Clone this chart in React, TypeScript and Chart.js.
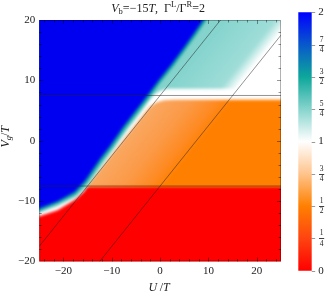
import React, { useEffect, useRef } from 'react';
import { Chart, registerables } from 'chart.js';
Chart.register(...registerables);

const W = 332;
const H = 296;
const FONT = 'Liberation Serif';

// axes
const uRange = [-25, 25];
const vgRange = [-20, 20];
const uTicks = [-20, -10, 0, 10, 20];
const vgTicks = [-20, -10, 0, 10, 20];
const uFrameTicks = [-24, -22, -20, -18, -16, -14, -12, -10, -8, -6, -4, -2, 0, 2, 4, 6, 8, 10, 12, 14, 16, 18, 20, 22, 24];
const vgFrameTicks = [-18, -16, -14, -12, -10, -8, -6, -4, -2, 0, 2, 4, 6, 8, 10, 12, 14, 16, 18];

// colour scale
const cmapValues = [0, 0.25, 0.5, 0.75, 1, 1.25, 1.5, 1.75, 2];
const cmapColors = ['#FF0000', '#FF4410', '#FF8000', '#FFC48C', '#FFFFFF', '#86D4CD', '#0DA79B', '#0858CC', '#0000FF'];
const colorbarTicks = [0, 0.25, 0.5, 0.75, 1, 1.25, 1.5, 1.75, 2];
const colorbarLabels = ['0', '1/4', '1/2', '3/4', '1', '5/4', '3/2', '7/4', '2'];

// guide lines (U, Vg)
const line1 = [[-25, -17.5], [12.5, 20]];
const line2 = [[-12.5, -20], [25, 17.5]];
const hUpper = [[-25, 7.5], [25, 7.5]];
const hLower = [[-25, -7.5], [25, -7.5]];

// region outlines (U, Vg)
const blueRegion = [[-30, -13.2], [-25.3, -11.3], [-21.2, -10.0], [-17.7, -8.5], [-15.6, -6.7], [-14.2, -5.1], [-12.4, -3.0], [-10.4, -0.9], [-7.6, 2.3], [-5, 5], [-2.5, 7.6], [-0.4, 9.9], [2.3, 12.6], [4.8, 15.3], [7.1, 17.9], [9.5, 20.7], [12, 23.5], [-30, 23.5], [-30, -13.2]];
const darkTealRegion = [[-30, -13.6], [-25.3, -11.7], [-21.2, -10.4], [-17.5, -8.9], [-15.2, -7.0], [-13.8, -5.4], [-11.9, -3.2], [-9.9, -1.1], [-7.1, 2.1], [-4.5, 4.8], [-2.0, 7.4], [0.1, 9.7], [2.8, 12.4], [5.3, 15.1], [7.6, 17.7], [10, 20.5], [12.5, 23.5], [-30, 23.5], [-30, -13.6]];
const tealRegion = [[-30, -14.0], [-25.3, -12.0], [-21.2, -10.8], [-17.4, -9.3], [-15.2, -7.7], [-13.6, -5.9], [-11.7, -3.7], [-9.7, -1.5], [-6.9, 1.7], [-4.3, 4.4], [-2.4, 6.5], [-1.3, 7.6], [0, 8.3], [1.5, 8.6], [15.6, 8.6], [37, 30], [-30, 30], [-30, -14.0]];
const whiteRegion = [[-30, -14.6], [-25.3, -12.6], [-21.2, -11.5], [-17.7, -9.8], [-15.6, -8.3], [-15.3, -7.6], [-3.0, 4.8], [-2.0, 5.7], [-0.8, 6.35], [0.8, 6.7], [3, 6.8], [36, 6.8], [36, 30], [-30, 30], [-30, -14.6]];
const lightOrangeRegion = [[-17.5, -7.6], [-4.5, 5.2], [-2.5, 7.5], [36, 7.8], [36, -7.6], [-17.5, -7.6]];
const orangeRegion = [[-35, -7.5], [35, -7.5], [35, 30], [-35, 30]];
const redRegion = [[-35, -30], [35, -30], [35, 30], [-35, 30]];

// diagonal shading stops, position along c = U - Vg
const tealShade = { c0: -7.5, c1: 7, stops: [[0, '#84D3CD'], [0.78, '#9FDDD8'], [1, '#FFFFFF']] };
const orangeShade = { c0: -7.5, c1: 8.5, stops: [[0, '#F9A862'], [0.45, '#FB9A48'], [0.8, '#FE8A22'], [1, '#FF8000']] };

const toXY = (pts: number[][]) => pts.map(([x, y]) => ({ x, y }));

function diagGradient(chart: any, shade: any, fallback: string) {
  const xs = chart.scales?.x, ys = chart.scales?.y;
  if (!xs || !ys || !chart.chartArea) return fallback;
  const ox = xs.getPixelForValue(0), oy = ys.getPixelForValue(0);
  const dx = xs.getPixelForValue(1) - ox;
  const dy = ys.getPixelForValue(1) - oy;
  const len = Math.hypot(dx, dy);
  const nx = -dy / len, ny = dx / len;
  const p0x = xs.getPixelForValue(shade.c0);
  const h = xs.getPixelForValue(shade.c1) - p0x;
  const dist = h * nx;
  const g = chart.ctx.createLinearGradient(p0x, oy, p0x + nx * dist, oy + ny * dist);
  shade.stops.forEach(([o, c]: any) => g.addColorStop(o, c));
  return g;
}

const fillDs = (pts: number[][], bg: any) => ({
  data: toXY(pts), showLine: true, fill: 'shape', backgroundColor: bg,
  borderColor: 'transparent', borderWidth: 0, pointRadius: 0, pointHoverRadius: 0, tension: 0,
});
const lineDs = (pts: number[][]) => ({
  data: toXY(pts), showLine: true, fill: false, borderColor: 'rgba(35,35,35,0.55)', borderWidth: 0.9,
  pointRadius: 0, pointHoverRadius: 0, tension: 0,
});

const layerBlur = [0, 0, 0, 0, 1.4, 1.4, 1.4, 1.4, 1.4, 1.4, 0];
const blurFor = (i: number) => (i >= 0 && layerBlur[i] ? `blur(${layerBlur[i]}px)` : 'none');

const fmt = (v: any) => (Number(v) < 0 ? '\u2212' + Math.abs(Number(v)) : String(v));

type Seg = { t: string; i?: boolean; s?: number; dy?: number };
function drawRich(ctx: CanvasRenderingContext2D, segs: Seg[], cx: number, cy: number, base = 12) {
  const fontOf = (s: Seg) => `${s.i ? 'italic ' : ''}${s.s || base}px "${FONT}"`;
  let total = 0;
  const widths = segs.map((s) => { ctx.font = fontOf(s); const w = ctx.measureText(s.t).width; total += w; return w; });
  let x = cx - total / 2;
  ctx.textBaseline = 'middle';
  ctx.textAlign = 'left';
  segs.forEach((s, k) => { ctx.font = fontOf(s); ctx.fillText(s.t, x, cy + (s.dy || 0)); x += widths[k]; });
}

const titleSegs: Seg[] = [{ t: 'V', i: true }, { t: 'b', s: 8.5, dy: 2.8 }, { t: '=\u221215' }, { t: 'T', i: true }, { t: ',  \u0393' }, { t: 'L', s: 8.5, dy: -3.8 }, { t: '/\u0393' }, { t: 'R', s: 8.5, dy: -3.8 }, { t: '=2' }];
const xTitleSegs: Seg[] = [{ t: 'U', i: true }, { t: '\u2009/' }, { t: 'T', i: true }];
const yTitleSegs: Seg[] = [{ t: 'V', i: true }, { t: 'g', i: true, s: 8.5, dy: 2.8 }, { t: '/' }, { t: 'T', i: true }];

const mainPlugin = {
  id: 'mainDecor',
  beforeDatasetsDraw(chart: any) { chart.ctx.filter = blurFor(chart.data.datasets.length - 1); },
  afterDatasetDraw(chart: any, args: any) { chart.ctx.filter = blurFor(args.index - 1); },
  afterDatasetsDraw(chart: any) {
    const ctx = chart.ctx;
    ctx.filter = 'none';
    const { left, right, top, bottom } = chart.chartArea;
    const xs = chart.scales.x, ys = chart.scales.y;
    ctx.save();
    ctx.strokeStyle = 'rgba(0,0,0,0.4)';
    ctx.lineWidth = 1;
    ctx.beginPath();
    uFrameTicks.forEach((v) => {
      const p = Math.round(xs.getPixelForValue(v)) + 0.5;
      const len = v % 10 === 0 ? 4 : 2.5;
      ctx.moveTo(p, bottom); ctx.lineTo(p, bottom - len);
      ctx.moveTo(p, top); ctx.lineTo(p, top + len);
    });
    vgFrameTicks.forEach((v) => {
      const p = Math.round(ys.getPixelForValue(v)) + 0.5;
      const len = v % 10 === 0 ? 4 : 2.5;
      ctx.moveTo(left, p); ctx.lineTo(left + len, p);
      ctx.moveTo(right, p); ctx.lineTo(right - len, p);
    });
    ctx.stroke();
    ctx.strokeStyle = 'rgba(0,0,0,0.3)';
    ctx.strokeRect(left + 0.5, top + 0.5, right - left - 1, bottom - top - 1);
    ctx.restore();
  },
  afterDraw(chart: any) {
    const ctx = chart.ctx;
    const { left, right, top, bottom } = chart.chartArea;
    ctx.save();
    ctx.fillStyle = '#222';
    drawRich(ctx, titleSegs, (left + right) / 2 - 2, 8.5);
    drawRich(ctx, xTitleSegs, (left + right) / 2 - 1, 288);
    ctx.translate(6, (top + bottom) / 2 - 4);
    ctx.rotate(-Math.PI / 2);
    drawRich(ctx, yTitleSegs, 0, 0);
    ctx.restore();
  },
};

const colorbarPlugin = {
  id: 'cbDecor',
  afterDraw(chart: any) {
    const ctx = chart.ctx;
    const ys = chart.scales.y;
    const { right } = chart.chartArea;
    ctx.save();
    ctx.strokeStyle = 'rgba(0,0,0,0.4)';
    ctx.lineWidth = 1;
    ctx.fillStyle = '#222';
    colorbarTicks.forEach((v, k) => {
      const y = ys.getPixelForValue(v);
      ctx.beginPath();
      ctx.moveTo(right, Math.round(y) + 0.5);
      ctx.lineTo(right + 3.5, Math.round(y) + 0.5);
      ctx.stroke();
      const lab = colorbarLabels[k];
      if (lab.includes('/')) {
        const [n, d] = lab.split('/');
        ctx.font = `7.5px "${FONT}"`;
        ctx.textAlign = 'center';
        ctx.textBaseline = 'middle';
        ctx.fillText(n, right + 10, y - 5);
        ctx.fillText(d, right + 10, y + 5.2);
        ctx.beginPath();
        ctx.strokeStyle = 'rgba(0,0,0,0.75)';
        ctx.moveTo(right + 7.3, Math.round(y) + 0.5);
        ctx.lineTo(right + 12.5, Math.round(y) + 0.5);
        ctx.stroke();
        ctx.strokeStyle = 'rgba(0,0,0,0.4)';
      } else {
        ctx.font = `11px "${FONT}"`;
        ctx.textAlign = 'left';
        ctx.textBaseline = 'middle';
        ctx.fillText(lab, right + 6.5, y);
      }
    });
    ctx.restore();
  },
};

export default function App() {
  const mainRef = useRef<HTMLCanvasElement>(null);
  const cbRef = useRef<HTMLCanvasElement>(null);

  useEffect(() => {
    const tickFont = { family: FONT, size: 11 };
    const main = new Chart(mainRef.current as HTMLCanvasElement, {
      type: 'line',
      data: {
        datasets: [
          lineDs(line1), lineDs(line2), lineDs(hUpper), lineDs(hLower),
          fillDs(blueRegion, '#0000F0'),
          fillDs(darkTealRegion, '#10A69E'),
          fillDs(tealRegion, (c: any) => diagGradient(c.chart, tealShade, '#9ADCD6')),
          fillDs(whiteRegion, '#FFFFFF'),
          fillDs(lightOrangeRegion, (c: any) => diagGradient(c.chart, orangeShade, '#FCA050')),
          fillDs(orangeRegion, '#FF8000'),
          fillDs(redRegion, '#FF0000'),
        ] as any,
      },
      options: {
        responsive: false,
        animation: false,
        devicePixelRatio: 1,
        events: [],
        layout: { padding: { left: 0, right: 51, top: 20, bottom: 0 } },
        plugins: { legend: { display: false }, tooltip: { enabled: false } },
        scales: {
          x: {
            type: 'linear', min: uRange[0], max: uRange[1],
            grid: { display: false, drawTicks: false }, border: { display: false },
            afterBuildTicks: (s: any) => { s.ticks = uTicks.map((v) => ({ value: v })); },
            afterFit: (s: any) => { s.height = 34.5; },
            ticks: { font: tickFont, color: '#222', padding: 3, maxRotation: 0, autoSkip: false, callback: fmt },
          },
          y: {
            type: 'linear', min: vgRange[0], max: vgRange[1],
            grid: { display: false, drawTicks: false }, border: { display: false },
            afterBuildTicks: (s: any) => { s.ticks = vgTicks.map((v) => ({ value: v })); },
            afterFit: (s: any) => { s.width = 39.2; },
            ticks: { font: tickFont, color: '#222', padding: 4, autoSkip: false, callback: fmt },
          },
        },
      } as any,
      plugins: [mainPlugin],
    });

    const cb = new Chart(cbRef.current as HTMLCanvasElement, {
      type: 'bar',
      data: {
        labels: ['scale'],
        datasets: [{
          data: [[cmapValues[0], cmapValues[cmapValues.length - 1]]],
          barPercentage: 1, categoryPercentage: 1, borderWidth: 0,
          backgroundColor: (c: any) => {
            const ch = c.chart;
            const ys = ch.scales?.y;
            if (!ys || !ch.chartArea) return '#888';
            const lo = cmapValues[0], hi = cmapValues[cmapValues.length - 1];
            const g = ch.ctx.createLinearGradient(0, ys.getPixelForValue(lo), 0, ys.getPixelForValue(hi));
            cmapValues.forEach((v, k) => g.addColorStop((v - lo) / (hi - lo), cmapColors[k]));
            return g;
          },
        }] as any,
      },
      options: {
        responsive: false,
        animation: false,
        devicePixelRatio: 1,
        events: [],
        layout: { padding: { left: 8.3, right: 20.3, top: 12.3, bottom: 25.3 } },
        plugins: { legend: { display: false }, tooltip: { enabled: false } },
        scales: {
          x: { display: false },
          y: { display: false, min: cmapValues[0], max: cmapValues[cmapValues.length - 1] },
        },
      } as any,
      plugins: [colorbarPlugin],
    });

    return () => { main.destroy(); cb.destroy(); };
  }, []);

  return (
    <div style={{ position: 'fixed', left: 0, top: 0, width: W, height: H, background: '#fff' }}>
      <canvas ref={mainRef} width={W} height={H} style={{ position: 'absolute', left: 0, top: 0, width: W, height: H }} />
      <canvas ref={cbRef} width={42} height={H} style={{ position: 'absolute', left: 290, top: 0, width: 42, height: H }} />
    </div>
  );
}
